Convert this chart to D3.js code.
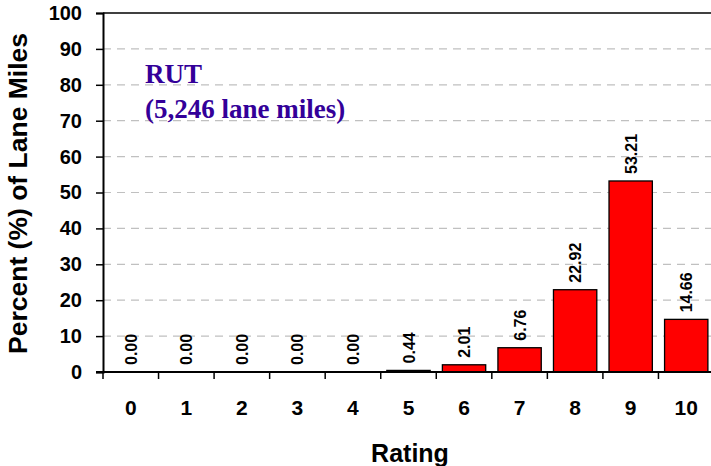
<!DOCTYPE html>
<html><head><meta charset="utf-8">
<script src="https://cdn.jsdelivr.net/npm/d3@7"></script>
<style>body{margin:0;background:#fff}svg{display:block}</style>
</head><body>
<svg id="c" width="711" height="466"></svg>
<script>
const categories = ["0","1","2","3","4","5","6","7","8","9","10"];
const values = [0.00,0.00,0.00,0.00,0.00,0.44,2.01,6.76,22.92,53.21,14.66];
const yTicks = [0,10,20,30,40,50,60,70,80,90,100];
const titleLines = ["RUT","(5,246 lane miles)"];

const svg = d3.select("#c");
const F = "Liberation Sans, Arial, sans-serif";
const L = 103, R = 714, T = 13, B = 372;
const x = d3.scaleBand().domain(categories).range([L, R]).paddingInner(0.22).paddingOuter(0.11);
const y = d3.scaleLinear().domain([0,100]).range([B, T]);

// grid
svg.append("g").selectAll("line").data(yTicks.filter(d=>d>0&&d<100)).join("line")
  .attr("x1", L).attr("x2", 711).attr("y1", d=>y(d)).attr("y2", d=>y(d))
  .attr("stroke","#c0c0c0").attr("stroke-width",1.2).attr("stroke-dasharray","8,6");
// top border
svg.append("line").attr("x1",L).attr("x2",711).attr("y1",y(100)).attr("y2",y(100)).attr("stroke","#000").attr("stroke-width",1.5);

// bars
svg.append("g").selectAll("rect").data(values).join("rect")
  .attr("x",(d,i)=>x(categories[i])).attr("width",x.bandwidth())
  .attr("y",d=>y(d)).attr("height",d=>B-y(d))
  .attr("fill","#ff0000").attr("stroke","#000").attr("stroke-width",1.3);

// value labels
svg.append("g").selectAll("text").data(values).join("text")
  .attr("transform",(d,i)=>`translate(${x(categories[i])+x.bandwidth()/2+6},${y(d)-7}) rotate(-90)`)
  .attr("font-family",F).attr("font-weight","bold")
  .attr("font-size",16).attr("fill","#000").text(d=>d.toFixed(2));

// y axis
const ya = svg.append("g").attr("transform",`translate(${L},0)`)
  .call(d3.axisLeft(y).tickValues(yTicks).tickSize(7).tickPadding(14));
ya.select(".domain").attr("stroke","#000").attr("stroke-width",2);
ya.selectAll(".tick line").attr("stroke","#000").attr("stroke-width",1.5);
ya.selectAll(".tick text").attr("font-family",F)
  .attr("font-weight","bold").attr("font-size",20).attr("fill","#000");

// x axis
const xa = svg.append("g").attr("transform",`translate(0,${B})`)
  .call(d3.axisBottom(x).tickSize(0).tickPadding(28));
xa.select(".domain").remove();
svg.append("line").attr("x1",L-7).attr("x2",711).attr("y1",B).attr("y2",B).attr("stroke","#000").attr("stroke-width",2);
xa.selectAll(".tick text").attr("font-family",F)
  .attr("font-weight","bold").attr("font-size",21).attr("fill","#000");
// boundary ticks
const bounds = categories.map(c=>x(c)-x.step()*x.paddingInner()/2);
svg.append("g").selectAll("line").data(bounds).join("line")
  .attr("x1",d=>d).attr("x2",d=>d).attr("y1",B).attr("y2",B+7)
  .attr("stroke","#000").attr("stroke-width",1.5);

// axis titles
svg.append("text").attr("x",410).attr("y",462).attr("text-anchor","middle")
  .attr("font-family",F).attr("font-weight","bold")
  .attr("font-size",25).text("Rating");
svg.append("text").attr("transform",`translate(27,${(T+B)/2+1}) rotate(-90)`).attr("text-anchor","middle")
  .attr("font-family",F).attr("font-weight","bold")
  .attr("font-size",26.5).text("Percent (%) of Lane Miles");

// annotation
svg.append("g").selectAll("text").data(titleLines).join("text")
  .attr("x",145).attr("y",(d,i)=>83+i*35)
  .attr("font-family","Liberation Serif, Times New Roman, serif").attr("font-weight","bold")
  .attr("font-size",27).attr("fill","#330099").text(d=>d);
</script>
</body></html>
